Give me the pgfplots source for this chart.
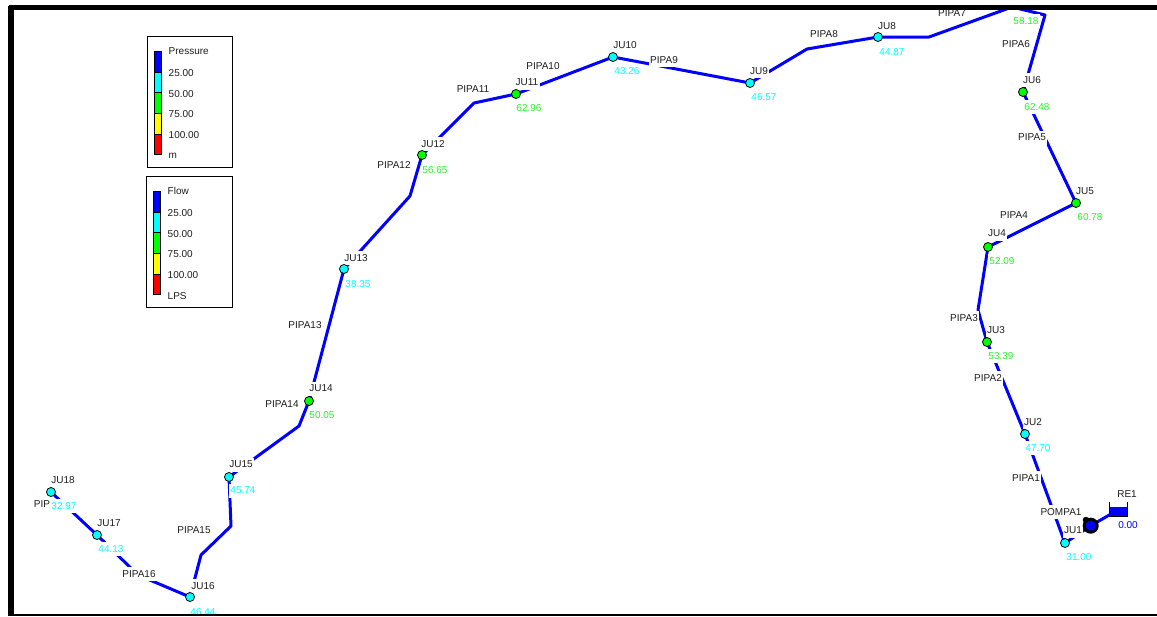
\documentclass[border=0pt]{standalone}
\usepackage{fontspec}
\setmainfont{Liberation Sans}
\usepackage{pgfplots}
\pgfplotsset{compat=1.18}
\definecolor{lab}{RGB}{30,30,30}
\definecolor{cy}{RGB}{0,255,255}
\definecolor{gr}{RGB}{0,255,0}
\definecolor{valg}{RGB}{40,245,40}
\definecolor{bl}{RGB}{0,0,255}
\definecolor{ye}{RGB}{255,255,0}
\definecolor{re}{RGB}{255,0,0}
\newcommand{\lab}[4][lab]{\node[font=\fontsize{10}{12}\selectfont,text=#1,fill=white,inner xsep=1.5pt,inner ysep=0pt,minimum height=14pt,yshift=-0.6pt,anchor=center] at (axis cs:#2,#3) {#4};}
\newcommand{\leg}[3]{\node[font=\fontsize{10}{12}\selectfont,text=lab,anchor=west,inner sep=0pt,yshift=-0.7pt] at (axis cs:#1,#2) {#3};}
\begin{document}
\begin{tikzpicture}
\useasboundingbox (0,0) rectangle (1157pt,616pt);
\begin{axis}[
  at={(0pt,0pt)}, anchor=south west,
  scale only axis, width=1157pt, height=616pt,
  xmin=0, xmax=1157, ymin=0, ymax=616, y dir=reverse,
  hide axis, clip=true]
% network
\addplot[bl, line width=3pt, line join=round] coordinates {
 (1065,543) (1025,434) (987,342) (978,310) (988,247) (1076,203) (1023,92)
 (1045,15) (1012,7) (929,37) (878,37) (807,49) (750,83) (613,57) (516,94)
 (474,103) (422,155) (410,196) (344,269) (309,401) (299,426) (229,477)
 (231,526) (201,555) (190,597) (138,575) (97,535) (51,492)};
\addplot[bl, line width=3pt] coordinates {(1065,543) (1090.7,525.7) (1118,510)};
% labels
\lab{1026}{477}{PIPA1}
\lab{1061}{511}{POMPA1}
\lab{1073}{530}{JU1}
\lab[cy]{1079}{556}{31.00}
\lab{1127}{493}{RE1}
\lab[bl]{1128}{524}{0.00}
\lab{1033}{421}{JU2}
\lab[cy]{1038}{447}{47.70}
\lab{988}{377}{PIPA2}
\lab{996}{329}{JU3}
\lab[valg]{1001}{355}{53.39}
\lab{964}{317}{PIPA3}
\lab{997}{233}{JU4}
\lab[valg]{1002}{260}{52.09}
\lab{1014}{214}{PIPA4}
\lab{1085}{191}{JU5}
\lab[valg]{1090}{216}{60.78}
\lab{1032}{137}{PIPA5}
\lab{1032}{79}{JU6}
\lab[valg]{1037}{106}{62.48}
\lab{1016}{43}{PIPA6}
\lab[valg]{1026}{20}{58.18}
\lab{952}{12}{PIPA7}
\lab{887}{25}{JU8}
\lab[cy]{892}{51}{44.87}
\lab{824}{33}{PIPA8}
\lab{759}{70}{JU9}
\lab[cy]{764}{96}{46.57}
\lab{664}{59}{PIPA9}
\lab{625}{44}{JU10}
\lab[cy]{627}{70}{43.26}
\lab{543}{65}{PIPA10}
\lab{527}{82}{JU11}
\lab[valg]{529}{107}{62.96}
\lab{473}{88}{PIPA11}
\lab{433}{143}{JU12}
\lab[valg]{435}{169}{56.65}
\lab{394}{164}{PIPA12}
\lab{356}{257}{JU13}
\lab[cy]{358}{283}{38.35}
\lab{305}{324}{PIPA13}
\lab{321}{388}{JU14}
\lab[valg]{322}{414}{50.05}
\lab{282}{403}{PIPA14}
\lab{241}{464}{JU15}
\lab[cy]{243}{490}{45.74}
\lab{194}{530}{PIPA15}
\lab{203}{585}{JU16}
\lab[cy]{203}{611}{46.44}
\lab{139}{573}{PIPA16}
\lab{109}{523}{JU17}
\lab[cy]{111}{548}{44.13}
\lab{42}{503}{PIP}
\lab{63}{479}{JU18}
\lab[cy]{64}{505}{32.97}
% junctions
\addplot[only marks, mark=*, mark size=4.5pt, mark options={fill=cy, draw=black, line width=0.8pt}] coordinates {
 (1065,543) (1025,434) (878,37) (750,83) (613,57) (344,269) (229,477) (190,597) (97,535) (51,492)};
\addplot[only marks, mark=*, mark size=4.5pt, mark options={fill=gr, draw=black, line width=0.8pt}] coordinates {
 (987,342) (988,247) (1076,203) (1023,92) (516,94) (422,155) (309,401)};
% pump
\addplot[only marks, mark=*, mark size=3pt, mark options={fill=black, draw=black}] coordinates {(1086,520)};
\addplot[only marks, mark=*, mark size=6.5pt, mark options={fill=bl, draw=black, line width=3pt}] coordinates {(1090.7,525.7)};
% reservoir
\addplot[fill=bl, draw=none] coordinates {(1109,507) (1127,507) (1127,516) (1109,516)} -- cycle;
\addplot[black, line width=1pt] coordinates {(1109.5,502) (1109.5,516) (1127,516) (1127,502)};
% legend boxes
\draw[black, line width=1pt, fill=white] (axis cs:147.5,36.5) rectangle (axis cs:232,167);
\draw[black, line width=1pt, fill=white] (axis cs:146.5,176.5) rectangle (axis cs:232,307);
\draw[black, fill=bl] (axis cs:154.5,51) rectangle (axis cs:161,72);
\draw[black, fill=cy] (axis cs:154.5,72) rectangle (axis cs:161,92);
\draw[black, fill=gr] (axis cs:154.5,92) rectangle (axis cs:161,113);
\draw[black, fill=ye] (axis cs:154.5,113) rectangle (axis cs:161,134);
\draw[black, fill=re] (axis cs:154.5,134) rectangle (axis cs:161,154);
\leg{168.5}{50.5}{Pressure}
\leg{168.5}{72}{25.00}
\leg{168.5}{93}{50.00}
\leg{168.5}{113}{75.00}
\leg{168.5}{134}{100.00}
\leg{168.5}{155}{m}
\draw[black, fill=bl] (axis cs:153.5,191) rectangle (axis cs:160,212);
\draw[black, fill=cy] (axis cs:153.5,212) rectangle (axis cs:160,232);
\draw[black, fill=gr] (axis cs:153.5,232) rectangle (axis cs:160,253);
\draw[black, fill=ye] (axis cs:153.5,253) rectangle (axis cs:160,274);
\draw[black, fill=re] (axis cs:153.5,274) rectangle (axis cs:160,294);
\leg{167.5}{190.5}{Flow}
\leg{167.5}{212}{25.00}
\leg{167.5}{233}{50.00}
\leg{167.5}{253}{75.00}
\leg{167.5}{274}{100.00}
\leg{167.5}{295}{LPS}
% frame
\fill[white] (axis cs:0,0) rectangle (axis cs:1157,4.5);
\fill[black] (axis cs:8,6) rectangle (axis cs:14,616);
\fill[black] (axis cs:9,4.5) rectangle (axis cs:1157,10);
\fill[black] (axis cs:8,613.5) rectangle (axis cs:1157,616);
\end{axis}
\end{tikzpicture}
\end{document}
